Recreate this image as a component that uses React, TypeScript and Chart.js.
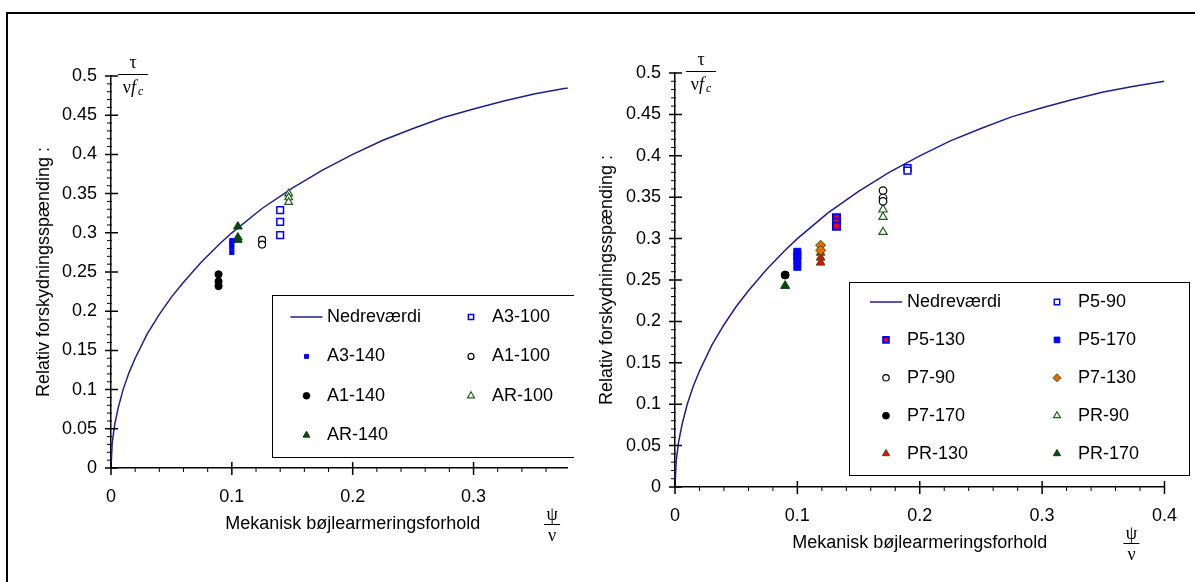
import React, { useEffect, useRef } from 'react';
import { Chart, registerables } from 'chart.js';
import { drawPoint } from 'chart.js/helpers';

Chart.register(...registerables);

const SANS = '"Liberation Sans", Arial, Helvetica, sans-serif';
const SERIF = '"Liberation Serif", "Times New Roman", serif';

// ---------- data ----------
// Nedreværdi (lower bound curve)
const CURVE_X = [0, 0.001, 0.003, 0.006, 0.01, 0.015, 0.02, 0.03, 0.04, 0.05, 0.06, 0.075, 0.09, 0.1, 0.125, 0.15, 0.175, 0.2, 0.225, 0.25, 0.275, 0.3, 0.325, 0.35, 0.375, 0.4];
const CURVE_Y = [0, 0.032, 0.055, 0.077, 0.1, 0.122, 0.14, 0.171, 0.196, 0.218, 0.237, 0.263, 0.286, 0.3, 0.331, 0.357, 0.38, 0.4, 0.418, 0.433, 0.447, 0.458, 0.468, 0.477, 0.484, 0.49];

const Y_TICKS = [0, 0.05, 0.1, 0.15, 0.2, 0.25, 0.3, 0.35, 0.4, 0.45, 0.5];
const LEFT_X_TICKS = [0, 0.1, 0.2, 0.3];
const RIGHT_X_TICKS = [0, 0.1, 0.2, 0.3, 0.4];

// left chart
const A3_100_X = [0.14, 0.14, 0.14];
const A3_100_Y = [0.329, 0.314, 0.297];
const A3_140_X = [0.1, 0.1, 0.1, 0.1];
const A3_140_Y = [0.29, 0.286, 0.281, 0.275];
const A1_100_X = [0.125, 0.125];
const A1_100_Y = [0.291, 0.285];
const A1_140_X = [0.089, 0.089, 0.089];
const A1_140_Y = [0.247, 0.238, 0.232];
const AR_100_X = [0.147, 0.147, 0.147];
const AR_100_Y = [0.35, 0.345, 0.339];
const AR_140_X = [0.105, 0.105, 0.105];
const AR_140_Y = [0.308, 0.294, 0.291];

// right chart
const P5_90_X = [0.19, 0.19];
const P5_90_Y = [0.385, 0.382];
const P5_130_X = [0.132, 0.132, 0.132];
const P5_130_Y = [0.325, 0.32, 0.315];
const P5_170_X = [0.1, 0.1, 0.1, 0.1];
const P5_170_Y = [0.284, 0.279, 0.274, 0.266];
const P7_90_X = [0.17, 0.17, 0.17];
const P7_90_Y = [0.358, 0.349, 0.345];
const P7_130_X = [0.119, 0.119];
const P7_130_Y = [0.292, 0.286];
const P7_170_X = [0.09];
const P7_170_Y = [0.256];
const PR_90_X = [0.17, 0.17, 0.17];
const PR_90_Y = [0.335, 0.326, 0.308];
const PR_130_X = [0.119, 0.119, 0.119];
const PR_130_Y = [0.283, 0.277, 0.271];
const PR_170_X = [0.09];
const PR_170_Y = [0.243];

// ---------- styles ----------
const NAVY = '#1e1e8e';
const BLUE = '#0000ff';
const RED = '#ff0000';
const DKGREEN = '#0a470a';
const OPGREEN = '#1f5f1f';
const ORANGE = '#e66b00';
const WHITE = '#ffffff';
const BLACK = '#000000';

const pts = (xs: number[], ys: number[]) => xs.map((x, i) => ({ x, y: ys[i] }));

const curveSet = () => ({
  label: 'Nedreværdi',
  data: pts(CURVE_X, CURVE_Y),
  showLine: true,
  pointRadius: 0,
  borderColor: NAVY,
  backgroundColor: NAVY,
  borderWidth: 1.5,
  tension: 0,
  fill: false,
  order: 1,
});

const pointSet = (label: string, xs: number[], ys: number[], style: string, r: number, fillC: string, strokeC: string, bw: number, lr: number) => ({
  label,
  data: pts(xs, ys),
  showLine: false,
  pointStyle: style,
  pointRadius: r,
  pointBackgroundColor: fillC,
  pointBorderColor: strokeC,
  pointBorderWidth: bw,
  backgroundColor: fillC,
  borderColor: strokeC,
  legendRadius: lr,
  order: 0,
});

const fmt = (v: number) => (v === 0 ? '0' : String(Number(v.toFixed(2))));

function decor(cfg: any) {
  return {
    id: 'decor',
    afterDraw(chart: any) {
      const ctx = chart.ctx as CanvasRenderingContext2D;
      const ca = chart.chartArea;
      const xs = chart.scales.x;
      const ys = chart.scales.y;
      ctx.save();
      ctx.strokeStyle = BLACK;
      // minor ticks
      ctx.lineWidth = 1;
      ctx.beginPath();
      for (let i = 0; i <= 50; i++) {
        if (i % 5 === 0) continue;
        const py = ys.getPixelForValue(i / 100);
        ctx.moveTo(ca.left - 4, py);
        ctx.lineTo(ca.left + 1, py);
      }
      const nx = Math.floor(cfg.xMax / 0.02 + 1e-6);
      for (let i = 0; i <= nx; i++) {
        if (i % 5 === 0) continue;
        const px = xs.getPixelForValue(i * 0.02);
        ctx.moveTo(px, ca.bottom - 1);
        ctx.lineTo(px, ca.bottom + 4);
      }
      ctx.stroke();
      // major ticks
      ctx.lineWidth = 1.5;
      ctx.beginPath();
      for (let i = 0; i <= 50; i += 5) {
        const py = ys.getPixelForValue(i / 100);
        ctx.moveTo(ca.left - 6, py);
        ctx.lineTo(ca.left + 7, py);
      }
      for (let i = 0; i <= nx; i += 5) {
        const px = xs.getPixelForValue(i * 0.02);
        ctx.moveTo(px, ca.bottom - 6);
        ctx.lineTo(px, ca.bottom + 7);
      }
      ctx.stroke();

      // titles
      ctx.fillStyle = BLACK;
      ctx.font = `18px ${SANS}`;
      ctx.textAlign = 'center';
      ctx.textBaseline = 'middle';
      ctx.fillText('Mekanisk bøjlearmeringsforhold', xs.getPixelForValue(0.2), ca.bottom + 56);
      ctx.save();
      ctx.translate(ca.left + cfg.yTitleDx, (ca.top + ca.bottom) / 2);
      ctx.rotate(-Math.PI / 2);
      ctx.fillText('Relativ forskydningsspænding :', 0, 0);
      ctx.restore();

      // tau / (nu f_c)
      const fx = ca.left + cfg.fracDx;
      const fy = ca.top - 2;
      ctx.font = `18px ${SERIF}`;
      ctx.textAlign = 'center';
      ctx.fillText('τ', fx, fy - 11);
      ctx.lineWidth = 1;
      ctx.beginPath();
      ctx.moveTo(fx - 15, fy + 0.5);
      ctx.lineTo(fx + 15, fy + 0.5);
      ctx.stroke();
      ctx.textAlign = 'left';
      ctx.font = `18px ${SERIF}`;
      const wNu = ctx.measureText('ν').width;
      ctx.font = `italic 18px ${SERIF}`;
      const wF = ctx.measureText('f').width;
      ctx.font = `italic 12px ${SERIF}`;
      const wC = ctx.measureText('c').width;
      let cx = fx - (wNu + wF + wC + 2) / 2;
      ctx.font = `18px ${SERIF}`;
      ctx.fillText('ν', cx, fy + 14);
      cx += wNu;
      ctx.font = `italic 18px ${SERIF}`;
      ctx.fillText('f', cx, fy + 14);
      cx += wF + 2;
      ctx.font = `italic 12px ${SERIF}`;
      ctx.fillText('c', cx, fy + 18);

      // psi / nu
      const qx = xs.getPixelForValue(cfg.psiVal);
      const qy = ca.bottom + 56;
      ctx.font = `18px ${SERIF}`;
      ctx.textAlign = 'center';
      ctx.fillText('ψ', qx, qy - 9);
      ctx.beginPath();
      ctx.moveTo(qx - 8, qy + 0.5);
      ctx.lineTo(qx + 8, qy + 0.5);
      ctx.stroke();
      ctx.fillText('ν', qx, qy + 12);

      // legend
      const L = cfg.legend;
      ctx.fillStyle = WHITE;
      ctx.fillRect(L.x, L.y, L.w, L.h);
      ctx.strokeStyle = BLACK;
      ctx.lineWidth = 1;
      ctx.strokeRect(L.x + 0.5, L.y + 0.5, L.w, L.h);
      ctx.font = `18px ${SANS}`;
      ctx.textAlign = 'left';
      ctx.textBaseline = 'middle';
      chart.data.datasets.forEach((d: any, i: number) => {
        const row = Math.floor(i / 2);
        const col = i % 2;
        const yy = L.row0 + row * L.rowStep;
        const mx = col === 0 ? L.m1 : L.m2;
        const tx = col === 0 ? L.t1 : L.t2;
        if (d.showLine) {
          ctx.strokeStyle = d.borderColor;
          ctx.lineWidth = 1.5;
          ctx.beginPath();
          ctx.moveTo(mx - 16, yy);
          ctx.lineTo(mx + 16, yy);
          ctx.stroke();
        } else {
          ctx.fillStyle = d.pointBackgroundColor;
          ctx.strokeStyle = d.pointBorderColor;
          ctx.lineWidth = d.pointBorderWidth;
          drawPoint(ctx, { pointStyle: d.pointStyle, rotation: 0, radius: d.legendRadius, borderWidth: d.pointBorderWidth } as any, mx, yy);
        }
        ctx.fillStyle = BLACK;
        ctx.fillText(d.label, tx, yy);
      });
      ctx.restore();
    },
  };
}

function makeChart(canvas: HTMLCanvasElement, datasets: any[], geo: any) {
  return new Chart(canvas, {
    type: 'scatter',
    data: { datasets },
    options: {
      animation: false,
      responsive: false,
      maintainAspectRatio: false,
      devicePixelRatio: 1,
      layout: { padding: { left: 0, top: geo.top, right: geo.right, bottom: 0 } },
      plugins: { legend: { display: false }, tooltip: { enabled: false } },
      scales: {
        x: {
          type: 'linear',
          min: 0,
          max: geo.xMax,
          afterFit: (s: any) => { s.height = geo.xHeight; },
          afterBuildTicks: (s: any) => { s.ticks = geo.xTicks.map((v: number) => ({ value: v })); },
          grid: { display: false, drawTicks: false },
          border: { display: true, color: BLACK, width: 1.5 },
          ticks: { padding: 18, color: BLACK, font: { family: SANS, size: 18 }, maxRotation: 0, autoSkip: false, callback: (v: any) => fmt(Number(v)) },
        },
        y: {
          type: 'linear',
          min: 0,
          max: 0.5,
          afterFit: (s: any) => { s.width = geo.yWidth; },
          afterBuildTicks: (s: any) => { s.ticks = Y_TICKS.map((v: number) => ({ value: v })); },
          grid: { display: false, drawTicks: false },
          border: { display: true, color: BLACK, width: 1.5 },
          ticks: { padding: 14, color: BLACK, font: { family: SANS, size: 18 }, autoSkip: false, callback: (v: any) => fmt(Number(v)) },
        },
      },
    } as any,
    plugins: [decor(geo)],
  });
}

export default function App() {
  const leftRef = useRef<HTMLCanvasElement>(null);
  const rightRef = useRef<HTMLCanvasElement>(null);

  useEffect(() => {
    const leftSets = [
      curveSet(),
      pointSet('A3-100', A3_100_X, A3_100_Y, 'rect', 4.7, WHITE, BLUE, 1.5, 3.7),
      pointSet('A3-140', A3_140_X, A3_140_Y, 'rect', 3, BLUE, BLUE, 1, 2.8),
      pointSet('A1-100', A1_100_X, A1_100_Y, 'circle', 3.5, WHITE, BLACK, 1.2, 3),
      pointSet('A1-140', A1_140_X, A1_140_Y, 'circle', 3.6, BLACK, BLACK, 1, 3.3),
      pointSet('AR-100', AR_100_X, AR_100_Y, 'triangle', 4.5, WHITE, OPGREEN, 1.2, 4),
      pointSet('AR-140', AR_140_X, AR_140_Y, 'triangle', 5, DKGREEN, DKGREEN, 1, 4),
    ];
    const rightSets = [
      curveSet(),
      pointSet('P5-90', P5_90_X, P5_90_Y, 'rect', 4.8, WHITE, BLUE, 1.5, 3.8),
      pointSet('P5-130', P5_130_X, P5_130_Y, 'rect', 5, RED, BLUE, 2, 4),
      pointSet('P5-170', P5_170_X, P5_170_Y, 'rect', 5, BLUE, BLUE, 1, 4),
      pointSet('P7-90', P7_90_X, P7_90_Y, 'circle', 3.8, WHITE, BLACK, 1.2, 3.2),
      pointSet('P7-130', P7_130_X, P7_130_Y, 'rectRot', 5, ORANGE, '#2f5a10', 1, 4),
      pointSet('P7-170', P7_170_X, P7_170_Y, 'circle', 4, BLACK, BLACK, 1, 3.4),
      pointSet('PR-90', PR_90_X, PR_90_Y, 'triangle', 4.8, WHITE, OPGREEN, 1.2, 4),
      pointSet('PR-130', PR_130_X, PR_130_Y, 'triangle', 5, RED, '#2f5a10', 1, 4.2),
      pointSet('PR-170', PR_170_X, PR_170_Y, 'triangle', 5.2, DKGREEN, DKGREEN, 1, 4.2),
    ];

    const left = makeChart(leftRef.current!, leftSets, {
      top: 76, right: 0, xMax: 0.378, xHeight: 114, yWidth: 111, xTicks: LEFT_X_TICKS,
      yTitleDx: -67, fracDx: 22, psiVal: 0.365,
      legend: { x: 272, y: 295, w: 400, h: 162, row0: 317, rowStep: 39.4, m1: 306.5, t1: 327, m2: 471, t2: 492 },
    });
    const right = makeChart(rightRef.current!, rightSets, {
      top: 73, right: 19, xMax: 0.4, xHeight: 95, yWidth: 100, xTicks: RIGHT_X_TICKS,
      yTitleDx: -68, fracDx: 26, psiVal: 0.373,
      legend: { x: 274, y: 282, w: 340, h: 193, row0: 302, rowStep: 37.9, m1: 311, t1: 332, m2: 482, t2: 503 },
    });
    return () => {
      left.destroy();
      right.destroy();
    };
  }, []);

  return (
    <div style={{ position: 'absolute', left: 0, top: 0, width: 1195, height: 582, overflow: 'hidden', background: '#fff' }}>
      <canvas ref={leftRef} width={574} height={582} style={{ position: 'absolute', left: 0, top: 0, width: 574, height: 582 }} />
      <canvas ref={rightRef} width={620} height={582} style={{ position: 'absolute', left: 575, top: 0, width: 620, height: 582 }} />
      <div style={{ position: 'absolute', left: 6, top: 12, width: 1300, height: 700, borderTop: '2px solid #000', borderLeft: '2px solid #000', pointerEvents: 'none' }} />
    </div>
  );
}
